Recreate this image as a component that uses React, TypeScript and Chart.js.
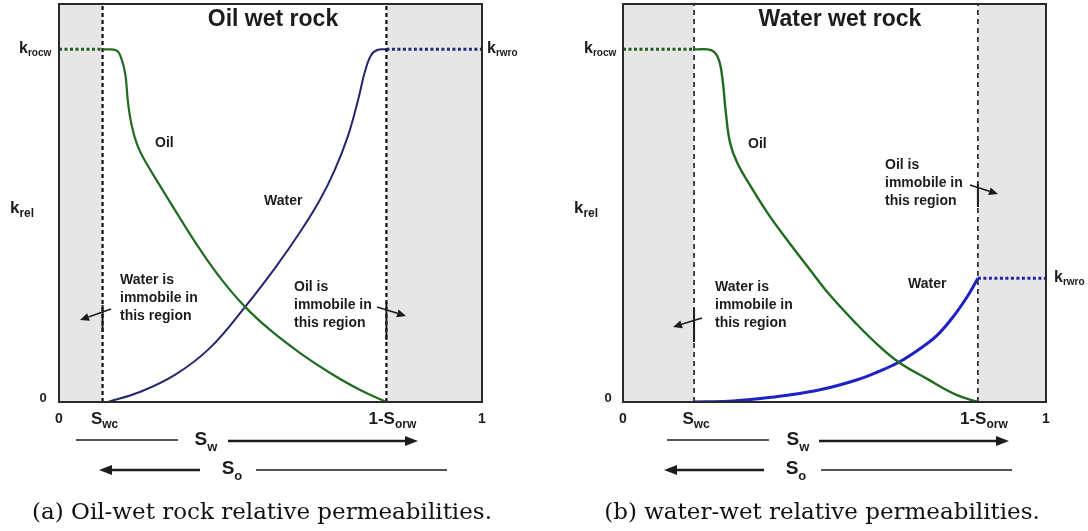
import { useEffect, useRef } from "react";
import { Chart, registerables } from "chart.js";

Chart.register(...registerables);

// ---------- (a) oil-wet rock ----------
const OW_SWC = 0.103;
const OW_ONE_MINUS_SORW = 0.774;
const OW_KROCW = 0.886;
const OW_KRWRO = 0.886;

const OW_OIL_SW = [0.103, 0.136, 0.148, 0.157, 0.163, 0.172, 0.186, 0.206, 0.239, 0.286, 0.333, 0.385, 0.44, 0.499, 0.57, 0.641, 0.712, 0.774];
const OW_OIL_KR = [0.886, 0.883, 0.861, 0.822, 0.754, 0.694, 0.643, 0.601, 0.543, 0.462, 0.384, 0.307, 0.239, 0.181, 0.123, 0.073, 0.03, 0];

const OW_WATER_SW = [0.116, 0.191, 0.274, 0.357, 0.44, 0.511, 0.57, 0.617, 0.652, 0.683, 0.707, 0.723, 0.738, 0.754, 0.774];
const OW_WATER_KR = [0, 0.025, 0.068, 0.136, 0.239, 0.337, 0.427, 0.508, 0.583, 0.668, 0.759, 0.829, 0.872, 0.885, 0.886];

// ---------- (b) water-wet rock ----------
const WW_SWC = 0.168;
const WW_ONE_MINUS_SORW = 0.839;
const WW_KROCW = 0.886;
const WW_KRWRO = 0.311;

const WW_OIL_SW = [0.168, 0.208, 0.225, 0.235, 0.243, 0.253, 0.27, 0.307, 0.348, 0.389, 0.438, 0.488, 0.554, 0.603, 0.652, 0.719, 0.784, 0.839];
const WW_OIL_KR = [0.886, 0.884, 0.864, 0.813, 0.728, 0.652, 0.601, 0.533, 0.465, 0.406, 0.338, 0.27, 0.194, 0.143, 0.1, 0.058, 0.02, 0];

const WW_WATER_SW = [0.168, 0.249, 0.307, 0.389, 0.471, 0.554, 0.603, 0.652, 0.702, 0.743, 0.784, 0.817, 0.839];
const WW_WATER_KR = [0, 0.002, 0.007, 0.017, 0.032, 0.056, 0.076, 0.1, 0.134, 0.168, 0.219, 0.27, 0.311];

// Axis labels: [main text, subscript]
const X_TICK_ZERO: [string, string] = ["0", ""];
const X_TICK_SWC: [string, string] = ["S", "wc"];
const X_TICK_SORW: [string, string] = ["1-S", "orw"];
const X_TICK_ONE: [string, string] = ["1", ""];
const Y_LABEL_KROCW: [string, string] = ["k", "rocw"];
const Y_LABEL_KRWRO: [string, string] = ["k", "rwro"];
const Y_LABEL_KREL: [string, string] = ["k", "rel"];
const Y_LABEL_ZERO = "0";
const SW_LABEL: [string, string] = ["S", "w"];
const SO_LABEL: [string, string] = ["S", "o"];
const WATER_IMMOBILE = ["Water is", "immobile in", "this region"];
const OIL_IMMOBILE = ["Oil is", "immobile in", "this region"];

const OIL_GREEN = "#216b21";
const DOT_GREEN = "#1f5e1f";
const SHADE = "#e5e6e5";
const INK = "#1c1c1c";
const SANS = "'Liberation Sans', Arial, sans-serif";
const SERIF = "'DejaVu Serif', serif";

type Pt = { x: number; y: number };
const zip = (xs: number[], ys: number[]): Pt[] => xs.map((x, i) => ({ x, y: ys[i] }));

interface Panel {
  title: string;
  caption: string;
  swc: number;
  sorwEnd: number;
  krocw: number;
  krwro: number;
  oilSw: number[];
  oilKr: number[];
  waterSw: number[];
  waterKr: number[];
  waterColor: string;
  waterWidth: number;
  oilWidth: number;
  krwroColor: string;
  dashWidth: number;
  dash: number[];
  pad: { left: number; right: number; top: number; bottom: number };
  layout: {
    titleX: number;
    krocwLeft: number;
    krelLeft: number;
    krelY: number;
    zeroX: number;
    oilLabel: [number, number];
    waterLabel: [number, number];
    krwroLeft: number;
    waterNote: [number, number];
    waterArrow: [number, number, number, number];
    waterTick: [number, number];
    oilNote: [number, number];
    oilArrow: [number, number, number, number];
    oilTick: [number, number];
    swRow: { y: number; lineFrom: number; lineTo: number; textX: number; arrowFrom: number; arrowTo: number };
    soRow: { y: number; arrowTip: number; arrowEnd: number; textX: number; lineFrom: number; lineTo: number };
    captionX: number;
  };
}

function subText(
  ctx: CanvasRenderingContext2D,
  label: [string, string],
  x: number,
  y: number,
  main: number,
  sub: number,
  align: "left" | "center" | "right",
  drop = 0.32
) {
  ctx.font = `bold ${main}px ${SANS}`;
  const wm = ctx.measureText(label[0]).width;
  ctx.font = `bold ${sub}px ${SANS}`;
  const ws = label[1] ? ctx.measureText(label[1]).width : 0;
  const total = wm + ws;
  let left = x;
  if (align === "center") left = x - total / 2;
  if (align === "right") left = x - total;
  ctx.textAlign = "left";
  ctx.textBaseline = "middle";
  ctx.font = `bold ${main}px ${SANS}`;
  ctx.fillText(label[0], left, y);
  if (label[1]) {
    ctx.font = `bold ${sub}px ${SANS}`;
    ctx.fillText(label[1], left + wm, y + main * drop);
  }
}

function arrow(
  ctx: CanvasRenderingContext2D,
  x1: number,
  y1: number,
  x2: number,
  y2: number,
  width: number,
  headLen: number,
  headW: number
) {
  const ang = Math.atan2(y2 - y1, x2 - x1);
  const bx = x2 - headLen * Math.cos(ang);
  const by = y2 - headLen * Math.sin(ang);
  ctx.lineWidth = width;
  ctx.beginPath();
  ctx.moveTo(x1, y1);
  ctx.lineTo(bx, by);
  ctx.stroke();
  ctx.beginPath();
  ctx.moveTo(x2, y2);
  ctx.lineTo(bx + (headW / 2) * Math.sin(ang), by - (headW / 2) * Math.cos(ang));
  ctx.lineTo(bx - (headW / 2) * Math.sin(ang), by + (headW / 2) * Math.cos(ang));
  ctx.closePath();
  ctx.fill();
}

function decorations(p: Panel) {
  return {
    id: "panelDecor",
    beforeDatasetsDraw(chart: any) {
      const { ctx, chartArea: a, scales } = chart;
      const x = scales.x;
      const x0 = x.getPixelForValue(0);
      const xs = x.getPixelForValue(p.swc);
      const xe = x.getPixelForValue(p.sorwEnd);
      const x1 = x.getPixelForValue(1);
      ctx.save();
      ctx.fillStyle = SHADE;
      ctx.fillRect(x0, a.top, xs - x0, a.bottom - a.top);
      ctx.fillRect(xe, a.top, x1 - xe, a.bottom - a.top);
      ctx.restore();
    },
    afterDatasetsDraw(chart: any) {
      const { ctx, chartArea: a, scales } = chart;
      const x = scales.x;
      const y = scales.y;
      const L = p.layout;
      ctx.save();
      // frame
      ctx.strokeStyle = "#2a2a2a";
      ctx.lineWidth = 2;
      ctx.strokeRect(a.left, a.top, a.right - a.left, a.bottom - a.top);

      ctx.fillStyle = INK;
      ctx.strokeStyle = INK;

      // title
      ctx.font = `bold 23px ${SANS}`;
      ctx.textAlign = "center";
      ctx.textBaseline = "middle";
      ctx.fillText(p.title, L.titleX, 20);

      // y-side labels
      subText(ctx, Y_LABEL_KROCW, L.krocwLeft, y.getPixelForValue(p.krocw) - 1, 16, 10, "left");
      subText(ctx, Y_LABEL_KREL, L.krelLeft, L.krelY, 17, 12, "left");
      ctx.font = `bold 13px ${SANS}`;
      ctx.textAlign = "center";
      ctx.fillText(Y_LABEL_ZERO, L.zeroX, y.getPixelForValue(0) - 4);
      subText(ctx, Y_LABEL_KRWRO, L.krwroLeft, y.getPixelForValue(p.krwro) - 1, 16, 10, "left");

      // x-side tick labels
      const tickY = a.bottom + 17;
      subText(ctx, X_TICK_ZERO, x.getPixelForValue(0), tickY, 14, 10, "center");
      subText(ctx, X_TICK_SWC, x.getPixelForValue(p.swc) + 2, tickY, 17, 12, "center");
      subText(ctx, X_TICK_SORW, x.getPixelForValue(p.sorwEnd) + 6, tickY, 17, 12, "center");
      subText(ctx, X_TICK_ONE, x.getPixelForValue(1), tickY, 14, 10, "center");

      // curve names
      ctx.font = `bold 14px ${SANS}`;
      ctx.textAlign = "left";
      ctx.textBaseline = "middle";
      ctx.fillText("Oil", L.oilLabel[0], L.oilLabel[1]);
      ctx.fillText("Water", L.waterLabel[0], L.waterLabel[1]);

      // immobile-region notes
      WATER_IMMOBILE.forEach((t, i) => ctx.fillText(t, L.waterNote[0], L.waterNote[1] + i * 18));
      OIL_IMMOBILE.forEach((t, i) => ctx.fillText(t, L.oilNote[0], L.oilNote[1] + i * 18));
      arrow(ctx, L.waterArrow[0], L.waterArrow[1], L.waterArrow[2], L.waterArrow[3], 1.5, 9, 8);
      arrow(ctx, L.oilArrow[0], L.oilArrow[1], L.oilArrow[2], L.oilArrow[3], 1.5, 9, 8);
      ctx.lineWidth = 2;
      ctx.beginPath();
      const sx = x.getPixelForValue(p.swc);
      ctx.moveTo(sx, L.waterTick[0]);
      ctx.lineTo(sx, L.waterTick[1]);
      const ox = x.getPixelForValue(p.sorwEnd);
      ctx.moveTo(ox, L.oilTick[0]);
      ctx.lineTo(ox, L.oilTick[1]);
      ctx.stroke();

      // saturation direction rows
      const sw = L.swRow;
      ctx.lineWidth = 1.5;
      ctx.beginPath();
      ctx.moveTo(sw.lineFrom, sw.y);
      ctx.lineTo(sw.lineTo, sw.y);
      ctx.stroke();
      subText(ctx, SW_LABEL, sw.textX, sw.y, 19, 13, "center", 0.38);
      arrow(ctx, sw.arrowFrom, sw.y + 1, sw.arrowTo, sw.y + 1, 2.5, 13, 10);

      const so = L.soRow;
      arrow(ctx, so.arrowEnd, so.y, so.arrowTip, so.y, 2.5, 13, 10);
      subText(ctx, SO_LABEL, so.textX, so.y - 1, 19, 13, "center", 0.38);
      ctx.lineWidth = 1.5;
      ctx.beginPath();
      ctx.moveTo(so.lineFrom, so.y);
      ctx.lineTo(so.lineTo, so.y);
      ctx.stroke();

      // caption
      ctx.fillStyle = "#111";
      ctx.font = `23px ${SERIF}`;
      ctx.textAlign = "center";
      ctx.textBaseline = "middle";
      ctx.fillText(p.caption, L.captionX, 513);
      ctx.restore();
    },
  };
}

const PANELS: Panel[] = [
  {
    title: "Oil wet rock",
    caption: "(a) Oil-wet rock relative permeabilities.",
    swc: OW_SWC,
    sorwEnd: OW_ONE_MINUS_SORW,
    krocw: OW_KROCW,
    krwro: OW_KRWRO,
    oilSw: OW_OIL_SW,
    oilKr: OW_OIL_KR,
    waterSw: OW_WATER_SW,
    waterKr: OW_WATER_KR,
    waterColor: "#26266e",
    waterWidth: 2,
    oilWidth: 2.2,
    krwroColor: "#1f2a7e",
    dashWidth: 2.2,
    dash: [4, 3],
    pad: { left: 59, right: 62, top: 4, bottom: 129 },
    layout: {
      titleX: 273,
      krocwLeft: 19,
      krelLeft: 10,
      krelY: 208,
      zeroX: 43,
      oilLabel: [155, 143],
      waterLabel: [264, 201],
      krwroLeft: 487,
      waterNote: [120, 280],
      waterArrow: [111, 309, 80, 320],
      waterTick: [305, 332],
      oilNote: [294, 287],
      oilArrow: [377, 307, 406, 316],
      oilTick: [302, 340],
      swRow: { y: 440, lineFrom: 76, lineTo: 178, textX: 206, arrowFrom: 228, arrowTo: 418 },
      soRow: { y: 470, arrowTip: 99, arrowEnd: 200, textX: 232, lineFrom: 256, lineTo: 447 },
      captionX: 262,
    },
  },
  {
    title: "Water wet rock",
    caption: "(b) water-wet relative permeabilities.",
    swc: WW_SWC,
    sorwEnd: WW_ONE_MINUS_SORW,
    krocw: WW_KROCW,
    krwro: WW_KRWRO,
    oilSw: WW_OIL_SW,
    oilKr: WW_OIL_KR,
    waterSw: WW_WATER_SW,
    waterKr: WW_WATER_KR,
    waterColor: "#1d22c4",
    waterWidth: 3,
    oilWidth: 2.4,
    krwroColor: "#2323a6",
    dashWidth: 1.5,
    dash: [5, 4],
    pad: { left: 79, right: 42, top: 4, bottom: 129 },
    layout: {
      titleX: 296,
      krocwLeft: 40,
      krelLeft: 30,
      krelY: 208,
      zeroX: 64,
      oilLabel: [204, 144],
      waterLabel: [364, 284],
      krwroLeft: 510,
      waterNote: [171, 287],
      waterArrow: [158, 318, 129, 327],
      waterTick: [308, 342],
      oilNote: [341, 165],
      oilArrow: [426, 185, 454, 194],
      oilTick: [184, 207],
      swRow: { y: 440, lineFrom: 123, lineTo: 225, textX: 254, arrowFrom: 275, arrowTo: 465 },
      soRow: { y: 470, arrowTip: 120, arrowEnd: 220, textX: 252, lineFrom: 277, lineTo: 468 },
      captionX: 278,
    },
  },
];

function PanelChart({ panel, left }: { panel: Panel; left: number }) {
  const ref = useRef<HTMLCanvasElement | null>(null);
  useEffect(() => {
    if (!ref.current) return;
    const p = panel;
    const chart = new Chart(ref.current, {
      type: "line",
      data: {
        datasets: [
          {
            data: zip(p.oilSw, p.oilKr),
            borderColor: OIL_GREEN,
            borderWidth: p.oilWidth,
            tension: 0.4,
          },
          {
            data: zip(p.waterSw, p.waterKr),
            borderColor: p.waterColor,
            borderWidth: p.waterWidth,
            tension: 0.4,
          },
          {
            data: [{ x: p.swc, y: 0 }, { x: p.swc, y: 1 }],
            borderColor: "#111",
            borderWidth: p.dashWidth,
            borderDash: p.dash,
          },
          {
            data: [{ x: p.sorwEnd, y: 0 }, { x: p.sorwEnd, y: 1 }],
            borderColor: "#111",
            borderWidth: p.dashWidth,
            borderDash: p.dash,
          },
          {
            data: [{ x: 0, y: p.krocw }, { x: p.swc, y: p.krocw }],
            borderColor: DOT_GREEN,
            borderWidth: 3,
            borderDash: [3, 2.5],
          },
          {
            data: [{ x: p.sorwEnd, y: p.krwro }, { x: 1, y: p.krwro }],
            borderColor: p.krwroColor,
            borderWidth: 3,
            borderDash: [3, 2.5],
          },
        ] as any,
      },
      options: {
        animation: false,
        responsive: false,
        devicePixelRatio: 1,
        layout: { padding: p.pad },
        elements: { point: { radius: 0 }, line: { tension: 0, fill: false } },
        scales: {
          x: { type: "linear", min: 0, max: 1, display: false },
          y: { type: "linear", min: 0, max: 1, display: false },
        },
        plugins: {
          legend: { display: false },
          tooltip: { enabled: false },
        },
      },
      plugins: [decorations(p)],
    });
    return () => chart.destroy();
  }, [panel]);
  return (
    <canvas
      ref={ref}
      width={544}
      height={531}
      style={{ position: "absolute", left, top: 0, width: 544, height: 531 }}
    />
  );
}

export default function App() {
  return (
    <div
      style={{
        position: "fixed",
        left: 0,
        top: 0,
        width: 1088,
        height: 531,
        background: "#ffffff",
        overflow: "hidden",
      }}
    >
      <PanelChart panel={PANELS[0]} left={0} />
      <PanelChart panel={PANELS[1]} left={544} />
    </div>
  );
}
